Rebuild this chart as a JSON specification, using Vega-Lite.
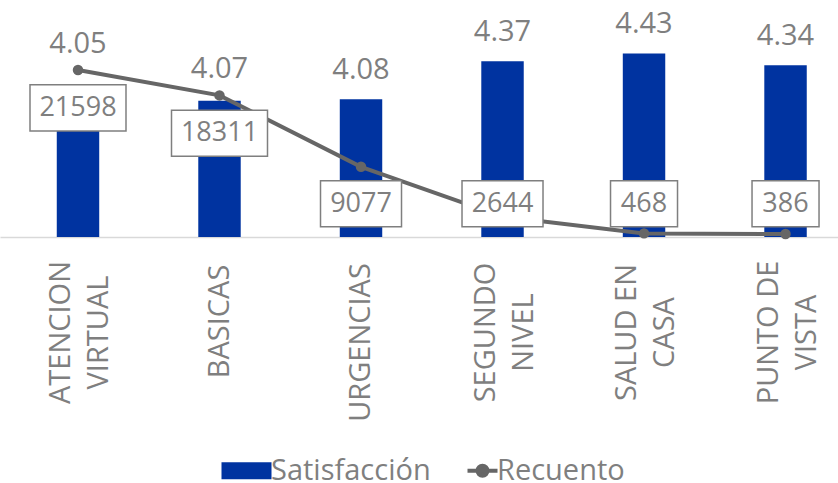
{
  "$schema": "https://vega.github.io/schema/vega-lite/v6.json",
  "width": 838,
  "height": 232,
  "autosize": "none",
  "padding": {"top": 5, "left": 0, "right": 0, "bottom": 246},
  "background": "white",
  "config": {"view": {"stroke": null}, "font": "Open Sans"},
  "data": {"values": [
    {"cat": "ATENCION VIRTUAL", "sat": 4.05, "rec": 21598},
    {"cat": "BASICAS", "sat": 4.07, "rec": 18311},
    {"cat": "URGENCIAS", "sat": 4.08, "rec": 9077},
    {"cat": "SEGUNDO NIVEL", "sat": 4.37, "rec": 2644},
    {"cat": "SALUD EN CASA", "sat": 4.43, "rec": 468},
    {"cat": "PUNTO DE VISTA", "sat": 4.34, "rec": 386}
  ]},
  "encoding": {
    "x": {
      "field": "cat", "type": "nominal", "sort": null,
      "scale": {"paddingInner": 0.7, "paddingOuter": 0.311, "align": 0.645},
      "axis": {
        "title": null, "labelAngle": -90, "labelAlign": "center", "labelBaseline": "middle",
        "labelFont": "Open Sans", "labelFontSize": 29, "labelColor": "#7f7f7f", "labelLineHeight": 38,
        "labelPadding": {"condition": [{"test": "datum.value === 'BASICAS'", "value": 84}, {"test": "datum.value === 'URGENCIAS'", "value": 105}], "value": 95},
        "labelOffset": {"condition": {"test": "indexof(datum.value, ' ') >= 0", "value": -17}, "value": 0},
        "ticks": false, "domainColor": "#d9d9d9", "domainWidth": 1.5, "grid": false, "labelOverlap": false, "labelLimit": 400,
        "labelExpr": "lastindexof(datum.label, ' ') < 0 ? datum.label : [substring(datum.label, 0, lastindexof(datum.label, ' ')), substring(datum.label, lastindexof(datum.label, ' ') + 1)]"
      }
    }
  },
  "layer": [
    {
      "transform": [{"calculate": "max(datum.sat + 0.222, 3.03 + datum.rec / 30000 * 1.77 + 0.2)", "as": "ly"}],
      "layer": [
        {
          "mark": {"type": "bar", "clip": true},
          "encoding": {
            "y": {"field": "sat", "type": "quantitative", "scale": {"domain": [3.03, 4.8], "zero": false, "nice": false}, "axis": null},
            "color": {
              "datum": "Satisfacción", "type": "nominal",
              "scale": {"domain": ["Satisfacción", "Recuento"], "range": ["#0033A0", "#666666"]},
              "legend": {
                "title": null, "orient": "none", "legendX": 232, "legendY": 451, "direction": "horizontal",
                "padding": 0, "labelFont": "Open Sans", "labelFontSize": 29, "labelColor": "#7f7f7f", "symbolSize": 2500, "labelLimit": 400,
                "labelOffset": 10, "columnPadding": 27, "symbolStrokeWidth": 4, "symbolOpacity": 1,
                "encoding": {
                  "symbols": {
                    "shape": {"value": {"expr": "datum.value === 'Recuento' ? 'M-0.2,0H1M0.6,0A0.2,0.2,0,1,1,0.2,0A0.2,0.2,0,1,1,0.6,0Z' : 'M-1,-0.34H1V0.34H-1Z'"}},
                    "fill": {"value": {"expr": "datum.value === 'Recuento' ? '#666666' : '#0033A0'"}},
                    "stroke": {"value": {"expr": "datum.value === 'Recuento' ? '#666666' : '#0033A0'"}},
                    "strokeWidth": {"value": {"expr": "datum.value === 'Recuento' ? 4 : 0"}}
                  }
                }
              }
            }
          }
        },
        {
          "mark": {"type": "text", "fontSize": 29, "font": "Open Sans", "color": "#7f7f7f", "baseline": "middle"},
          "encoding": {
            "y": {"field": "ly", "type": "quantitative"},
            "text": {"field": "sat", "type": "quantitative", "format": ".2f"}
          }
        }
      ]
    },
    {
      "transform": [{"calculate": "max(datum.rec - 4900, 4300)", "as": "lab"}],
      "layer": [
        {
          "mark": {"type": "line", "strokeWidth": 4},
          "encoding": {
            "y": {"field": "rec", "type": "quantitative", "scale": {"domain": [0, 30000], "nice": false, "zero": true}, "axis": null},
            "color": {"datum": "Recuento", "type": "nominal"}
          }
        },
        {
          "mark": {"type": "point", "filled": true, "size": 110, "opacity": 1},
          "encoding": {
            "y": {"field": "rec", "type": "quantitative"},
            "color": {"datum": "Recuento", "type": "nominal"}
          }
        },
        {
          "transform": [{"filter": "datum.rec >= 10000"}],
          "mark": {"type": "point", "shape": "M-1,-0.48H1V0.48H-1Z", "size": 9216, "filled": false, "fill": "white", "fillOpacity": 1, "stroke": "#7f7f7f", "strokeWidth": 1.5, "opacity": 1},
          "encoding": {"y": {"field": "lab", "type": "quantitative"}}
        },
        {
          "transform": [{"filter": "datum.rec >= 1000 && datum.rec < 10000"}],
          "mark": {"type": "point", "shape": "M-1,-0.568H1V0.568H-1Z", "size": 6561, "filled": false, "fill": "white", "fillOpacity": 1, "stroke": "#7f7f7f", "strokeWidth": 1.5, "opacity": 1},
          "encoding": {"y": {"field": "lab", "type": "quantitative"}}
        },
        {
          "transform": [{"filter": "datum.rec < 1000"}],
          "mark": {"type": "point", "shape": "M-1,-0.687H1V0.687H-1Z", "size": 4489, "filled": false, "fill": "white", "fillOpacity": 1, "stroke": "#7f7f7f", "strokeWidth": 1.5, "opacity": 1},
          "encoding": {"y": {"field": "lab", "type": "quantitative"}}
        },
        {
          "mark": {"type": "text", "fontSize": 27, "font": "Open Sans", "color": "#7f7f7f", "baseline": "middle"},
          "encoding": {
            "y": {"field": "lab", "type": "quantitative"},
            "text": {"field": "rec", "type": "quantitative", "format": "d"}
          }
        }
      ]
    }
  ],
  "resolve": {"scale": {"y": "independent"}}
}
